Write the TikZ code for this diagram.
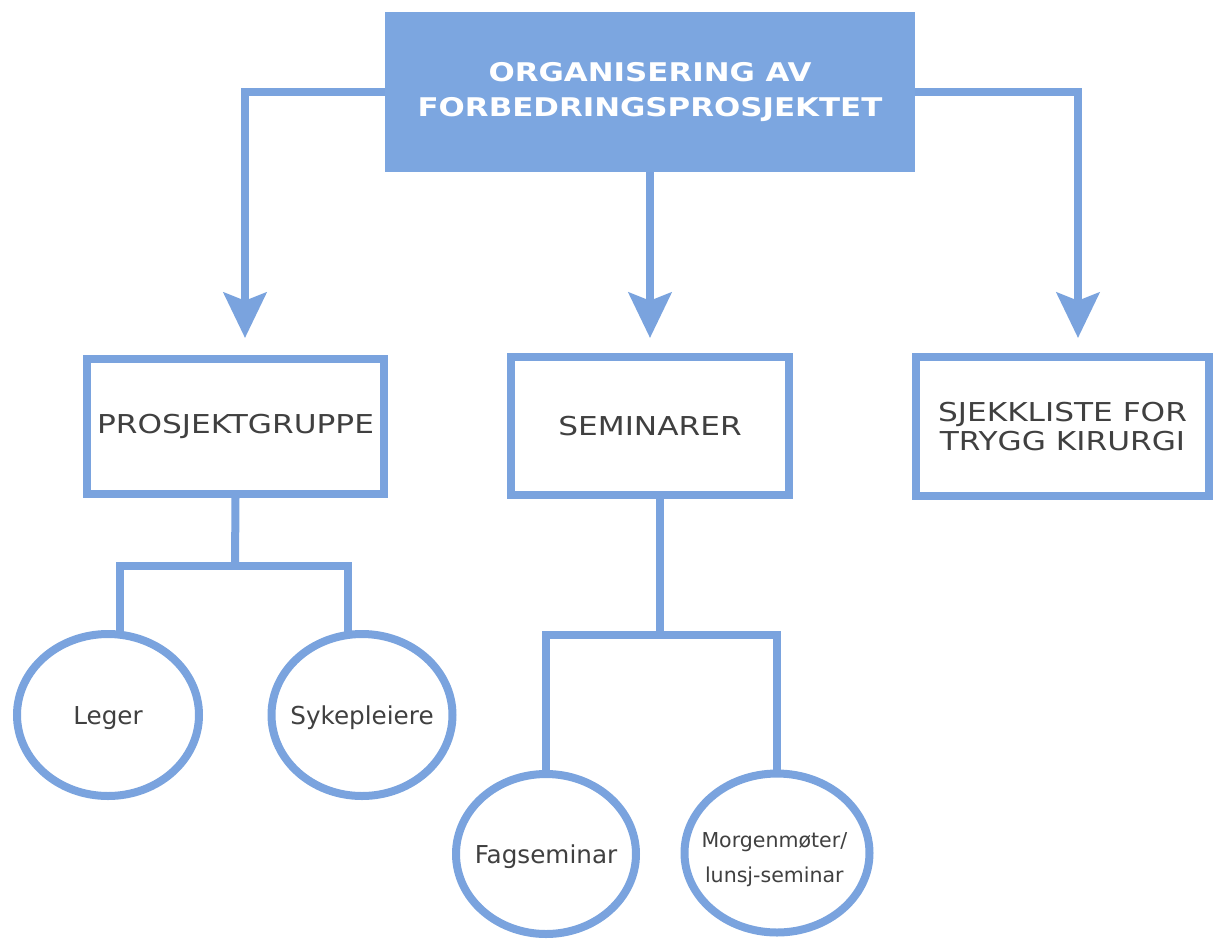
\documentclass[tikz,border=0pt]{standalone}
\usepackage{fontspec}
\setmainfont{DejaVu Sans}[FakeStretch=1.2]
\newfontfamily\plainfont{DejaVu Sans}
\usetikzlibrary{arrows.meta,shapes.geometric}
\pgfdeclarelayer{bg}
\pgfsetlayers{bg,main}
\definecolor{lineblue}{RGB}{122,163,222}
\definecolor{fillblue}{RGB}{124,166,224}
\definecolor{txt}{RGB}{64,64,64}
\begin{document}
\begin{tikzpicture}[x=0.75pt,y=-0.75pt,
  conn/.style={draw=lineblue,line width=6pt},
  arr/.style={conn,-{Stealth[width=32pt,length=34pt,inset=6pt]}},
  topbox/.style={rectangle,fill=fillblue,draw=none,text=white,font=\fontsize{19.3}{26}\selectfont\bfseries,align=center,inner sep=0pt},
  boxn/.style={rectangle,draw=lineblue,line width=6pt,fill=white,text=txt,font=\fontsize{19.5}{22}\selectfont,align=center,inner sep=0pt},
  ell/.style={ellipse,draw=lineblue,line width=6pt,fill=white,inner sep=0pt},
  elltext/.style={text=txt,align=center,font=\plainfont\fontsize{18.5}{22}\selectfont},
  elltextsmall/.style={text=txt,align=center,font=\plainfont\fontsize{15.4}{26}\selectfont}
]
\useasboundingbox (0,0) rectangle (1215,940);
\node[topbox,minimum width=397.5pt,minimum height=120pt] (top) at (650,92) {ORGANISERING AV\\FORBEDRINGSPROSJEKTET};
\node[boxn,minimum width=222.75pt,minimum height=101.25pt] (pg) at (235.5,426.5) {PROSJEKTGRUPPE};
\node[boxn,minimum width=208.5pt,minimum height=103.5pt] (sem) at (650,426) {SEMINARER};
\node[boxn,minimum width=219.75pt,minimum height=104.25pt] (sjk) at (1062.5,426.5) {SJEKKLISTE FOR\\TRYGG KIRURGI};
\node[ell,minimum width=136.5pt,minimum height=121.5pt,label={[elltext,yshift=-2pt]center:Leger}] (leg) at (108,715) {};
\node[ell,minimum width=135.75pt,minimum height=121.5pt,label={[elltext,yshift=-2pt]center:Sykepleiere}] (syk) at (362,715) {};
\node[ell,minimum width=135pt,minimum height=120pt,label={[elltext,yshift=-2pt]center:Fagseminar}] (fag) at (546,854) {};
\node[ell,minimum width=138.75pt,minimum height=119.25pt,label={[elltextsmall,yshift=-5pt,xshift=-2pt]center:Morgenmøter/\\lunsj-seminar}] (mor) at (777,853) {};
\coordinate (tl) at (245,338);
\coordinate (tm) at (650,338);
\coordinate (tr) at (1078,338);
\coordinate (pj) at (235,566);
\coordinate (pjl) at (120,566);
\coordinate (pjr) at (348,566);
\coordinate (sj) at (660,635);
\coordinate (sjl) at (546,635);
\coordinate (sjr) at (777,635);
\begin{pgfonlayer}{bg}
\draw[arr] (top.west) -| (tl);
\draw[arr] (top.south) -- (tm);
\draw[arr] (top.east) -| (tr);
\draw[conn] (pg.south) -- (pj);
\draw[conn,line cap=rect] (pjl) -- (pjr);
\draw[conn] (pjl) -- (pjl |- leg.center);
\draw[conn] (pjr) -- (pjr |- syk.center);
\draw[conn] (sj |- sem.south) -- (sj);
\draw[conn,line cap=rect] (sjl) -- (sjr);
\draw[conn] (sjl) -- (sjl |- fag.center);
\draw[conn] (sjr) -- (sjr |- mor.center);
\end{pgfonlayer}
\end{tikzpicture}
\end{document}
